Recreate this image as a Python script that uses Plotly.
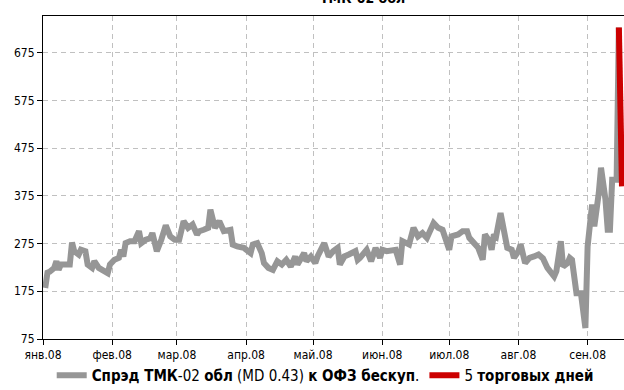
import pandas as pd
import plotly.graph_objects as go

# Day offsets from 2008-01-01 and spread values (bp)
gray_days = [1, 2, 3, 5, 6, 7, 8, 12, 13, 14, 16, 17, 19, 20, 22, 23, 25, 27, 29, 30,
             32, 34, 35, 36, 37, 39, 41, 43, 44, 46, 48, 49, 51, 53, 55, 57, 59, 61, 63, 65,
             67, 69, 70, 72, 74, 75, 77, 79, 81, 84, 85, 87, 90, 93, 94, 96, 98, 99, 101, 103,
             105, 107, 109, 111, 113, 114, 117, 118, 120, 122, 123, 126, 128, 130, 132, 133, 135, 137, 140, 141,
             142, 145, 147, 149, 151, 152, 154, 158, 160, 161, 164, 166, 168, 170, 172, 175, 177, 179, 182, 183,
             186, 188, 190, 191, 194, 195, 197, 198, 200, 201, 202, 203, 205, 206, 208, 210, 211, 213, 214, 216,
             218, 220, 222, 224, 226, 229, 230, 232, 233, 235, 236, 237, 238, 239, 241, 243, 244, 245, 246, 247,
             248, 249, 250, 252, 253, 254, 255, 256, 257, 258]
gray_vals = [182, 214, 216, 224, 238, 220, 231, 231, 277, 259, 252, 262, 259, 231, 224, 238, 224, 217, 213, 231,
             241, 245, 262, 248, 276, 280, 280, 301, 276, 283, 286, 297, 259, 283, 313, 290, 283, 283, 322, 308,
             315, 294, 301, 304, 308, 346, 308, 322, 301, 304, 273, 269, 266, 255, 273, 276, 255, 234, 224, 220,
             238, 231, 241, 227, 248, 231, 255, 238, 248, 234, 248, 276, 248, 259, 266, 231, 248, 252, 259, 241,
             245, 262, 238, 266, 245, 262, 259, 262, 231, 280, 273, 308, 290, 297, 287, 318, 308, 304, 262, 290,
             294, 301, 301, 287, 273, 266, 241, 294, 280, 262, 294, 290, 339, 308, 266, 262, 245, 259, 273, 234,
             245, 248, 252, 244, 224, 206, 217, 280, 227, 234, 245, 241, 192, 171, 171, 98, 269, 311, 357, 311,
             339, 381, 434, 367, 304, 304, 409, 409, 409, 728]

red_days = [258, 259, 259.4]
red_vals = [728, 515, 395]

month_days = [0, 31, 60, 91, 121, 152, 182, 213, 244]
month_labels = ["янв.08", "фев.08", "мар.08", "апр.08", "май.08", "июн.08", "июл.08", "авг.08", "сен.08"]
y_ticks = [75, 175, 275, 375, 475, 575, 675]

gray_name = "<b>Спрэд ТМК</b>-02 <b>обл</b> (MD 0.43) <b>к ОФЗ бескуп</b>."
red_name = "5 <b>торговых дней</b>"
title_text = "<b>ТМК-02 обл</b>"

start = pd.Timestamp("2008-01-01")
to_dates = lambda d: start + pd.to_timedelta(d, unit="D")

FONT = "DejaVu Sans Condensed, Liberation Sans, Arial, sans-serif"

fig = go.Figure()
fig.add_trace(go.Scatter(x=to_dates(gray_days), y=gray_vals, mode="lines", name=gray_name,
                         line=dict(color="#969696", width=6)))
fig.add_trace(go.Scatter(x=to_dates(red_days), y=red_vals, mode="lines", name=red_name,
                         line=dict(color="#cc0000", width=6)))

fig.update_layout(
    width=624, height=390,
    margin=dict(l=43, r=0, t=16, b=51, autoexpand=False),
    paper_bgcolor="white", plot_bgcolor="white",
    font=dict(family=FONT, size=12, color="#000000"),
    showlegend=True,
    legend=dict(orientation="h", x=0.015, xanchor="left", y=-0.062, yanchor="top",
                font=dict(size=15), itemwidth=30, tracegroupgap=0,
                bgcolor="rgba(0,0,0,0)"),
    annotations=[dict(text=title_text, x=0.55, xref="paper", y=1.024, yref="paper",
                      yanchor="bottom", xanchor="center", showarrow=False,
                      font=dict(size=14, family=FONT))],
)
fig.update_xaxes(
    range=[to_dates(0), to_dates(260.3)],
    tickvals=to_dates(month_days), ticktext=month_labels,
    ticks="outside", ticklen=5, tickcolor="black",
    showline=True, linecolor="black", linewidth=1, mirror=True,
    showgrid=True, gridcolor="#c0c0c0", griddash="5px,4px", gridwidth=1,
    zeroline=False, tickfont=dict(size=12),
)
fig.update_yaxes(
    range=[75, 752], tickvals=y_ticks,
    ticks="outside", ticklen=5, tickcolor="black",
    showline=True, linecolor="black", linewidth=1,
    showgrid=True, gridcolor="#c0c0c0", griddash="5px,4px", gridwidth=1,
    zeroline=False, tickfont=dict(size=12),
)
fig.write_html("out.html", config={"displayModeBar": False},
               post_script="document.body.style.margin='0';")
